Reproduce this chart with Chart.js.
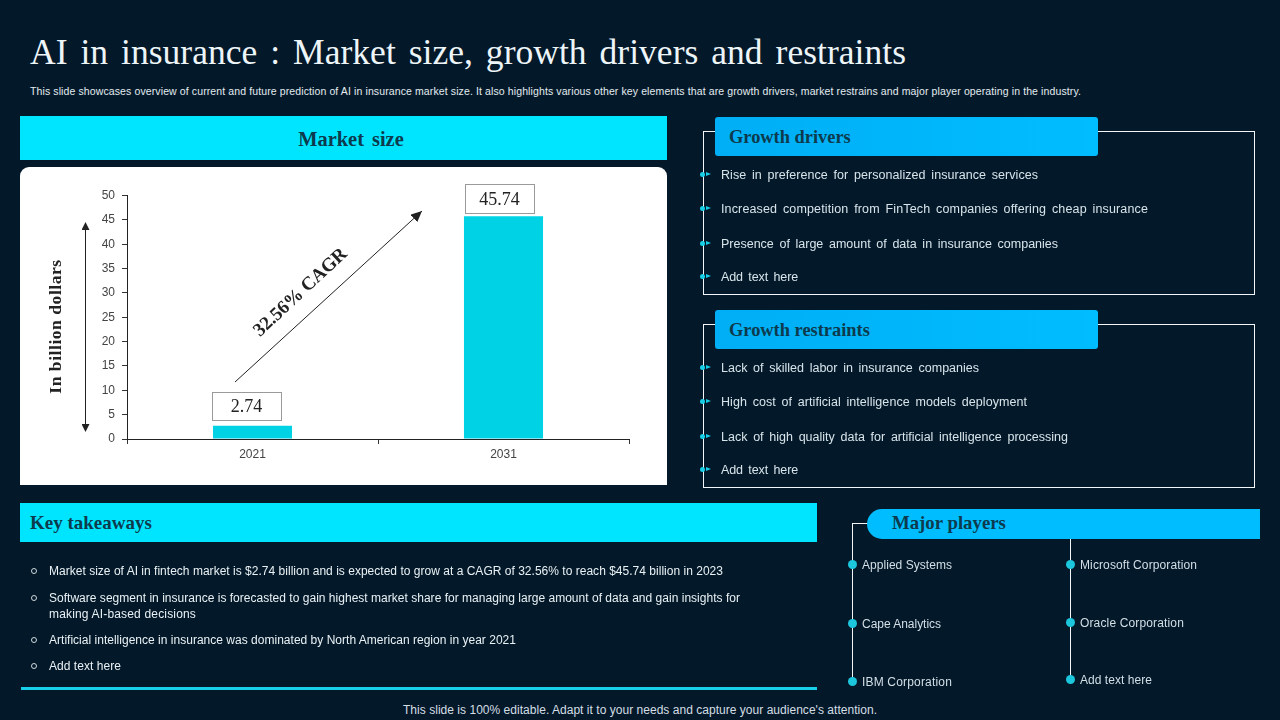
<!DOCTYPE html>
<html><head><meta charset="utf-8">
<script src="https://cdn.jsdelivr.net/npm/chart.js@4"></script>
<style>
html,body{margin:0;padding:0;background:#031827;overflow:hidden}
#s{position:relative;width:1280px;height:720px;background:#03192a;font-family:"Liberation Sans",sans-serif;color:#dfe8ee;overflow:hidden}
#s div{position:absolute;white-space:nowrap}
.serif{font-family:"Liberation Serif",serif;font-weight:bold;color:#0d3a4d}
.ln{line-height:16px;font-size:12.5px}
.box{border:1px solid #f2f6f8;box-sizing:border-box}
svg{position:absolute;left:0;top:0;pointer-events:none}
</style></head><body>
<div id="s">
<div id="ttl" style="left:30px;top:30px;font:35.5px/44px 'Liberation Serif',serif;color:#eef5f8;word-spacing:4px">AI in insurance : Market size, growth drivers and restraints</div>
<div id="sub" style="left:30px;top:84px;font-size:10.5px;line-height:14px;color:#e4ecf0">This slide showcases overview of current and future prediction of AI in insurance market size. It also highlights various other key elements that are growth drivers, market restrains and major player operating in the industry.</div>

<div style="left:20px;top:116px;width:647px;height:44px;background:#00e5ff"></div>
<div class="serif" style="left:20px;top:126px;width:662px;text-align:center;font-size:20.4px;line-height:26px;word-spacing:3px">Market size</div>
<div style="left:20px;top:167px;width:647px;height:318px;background:#fff;border-radius:9px 9px 0 0"></div>
<div style="left:20px;top:167px;width:647px;height:318px"><canvas id="c" width="647" height="318" style="display:block;width:647px;height:318px"></canvas></div>

<div class="box" style="left:703px;top:131px;width:552px;height:164px"></div>
<div style="left:715px;top:117px;width:383px;height:39px;background:linear-gradient(90deg,#00aef5,#00bdff);border-radius:3px"></div>
<div class="serif" style="left:729px;top:126px;font-size:18.4px;line-height:22px">Growth drivers</div>
<div class="box" style="left:703px;top:324px;width:552px;height:164px"></div>
<div style="left:715px;top:310px;width:383px;height:39px;background:linear-gradient(90deg,#00aef5,#00bdff);border-radius:3px"></div>
<div class="serif" style="left:729px;top:319px;font-size:18.4px;line-height:22px">Growth restraints</div>

<div style="left:20px;top:503px;width:797px;height:39px;background:#00e5ff"></div>
<div class="serif" style="left:30px;top:512px;font-size:19px;line-height:22px">Key takeaways</div>
<div style="left:21px;top:687px;width:796px;height:3px;background:#18d0ea"></div>

<div style="left:852px;top:523px;width:16px;height:1px;background:#f2f6f8"></div>
<div style="left:852px;top:523px;width:1px;height:160px;background:#f2f6f8"></div>
<div style="left:1070px;top:538px;width:1px;height:142px;background:#f2f6f8"></div>
<div style="left:867px;top:509px;width:393px;height:30px;background:#00bdff;border-radius:15px 0 0 15px"></div>
<div class="serif" style="left:892px;top:512px;font-size:18.8px;line-height:22px">Major players</div>

<div id="foot" style="left:403px;top:702px;font-size:12px;line-height:16px;color:#d5dee4">This slide is 100% editable. Adapt it to your needs and capture your audience's attention.</div>

<svg width="1280" height="720">
<defs><marker id="h" markerWidth="8" markerHeight="8" refX="7" refY="4" orient="auto-start-reverse" markerUnits="userSpaceOnUse"><path d="M0 0 L8 4 L0 8 Z" fill="#222"/></marker>
<marker id="g" markerWidth="12" markerHeight="10" refX="11" refY="5" orient="auto-start-reverse" markerUnits="userSpaceOnUse"><path d="M0 0 L11 5 L0 10 Z" fill="#222"/></marker></defs>
<line x1="235" y1="382" x2="422" y2="211" stroke="#222" stroke-width="1" marker-end="url(#g)"/>
<line x1="85.5" y1="223" x2="85.5" y2="431" stroke="#222" stroke-width="1" marker-start="url(#h)" marker-end="url(#h)"/>
<text transform="translate(301 293) rotate(-43)" text-anchor="middle" dominant-baseline="middle" font-family="Liberation Serif" font-weight="bold" font-size="19" letter-spacing="-.2" fill="#222">32.56% CAGR</text>
<text id="yt" transform="translate(57 326.5) rotate(-90)" text-anchor="middle" dominant-baseline="middle" font-family="Liberation Serif" font-weight="bold" font-size="17.5" letter-spacing=".55" fill="#222"></text>
</svg>
</div>
<script>
const categories=['2021','2031'];
const marketSize=[2.74,45.74];
const valueLabels=['2.74','45.74'];
const yTicks=[0,5,10,15,20,25,30,35,40,45,50];
const yAxisTitle='In billion dollars';
const drivers=['Rise in preference for personalized insurance services','Increased competition from FinTech companies offering cheap insurance','Presence of large amount of data in insurance companies','Add text here'];
const driverY=[175,209,244,277];
const driverEnd=[1038,1148,1058,798];
const restraints=['Lack of skilled labor in insurance companies','High cost of artificial intelligence models deployment','Lack of high quality data for artificial intelligence processing','Add text here'];
const restraintY=[368,402,437,470];
const restraintEnd=[979,1027,1068,798];
const takeaways=['Market size of AI in fintech market is $2.74 billion and is expected to grow at a CAGR of 32.56% to reach $45.74 billion in 2023','Software segment in insurance is forecasted to gain highest market share for managing large amount of data and gain insights for','Artificial intelligence in insurance was dominated by North American region in year 2021','Add text here'];
const takeawayY=[571,598,640,666];
const takeawayEnd=[723,740,516,121];
const takeawayCont='making AI-based decisions';
const playersLeft=['Applied Systems','Cape Analytics','IBM Corporation'];
const playersLeftY=[565,624,682];
const playersLeftEnd=[952,941,952];
const playersRight=['Microsoft Corporation','Oracle Corporation','Add text here'];
const playersRightY=[565,623,680];
const playersRightEnd=[1197,1184,1152];

document.getElementById('yt').textContent=yAxisTitle;
const s=document.getElementById('s');
function add(html,st,cls){const d=document.createElement('div');d.innerHTML=html;d.style.cssText=st;if(cls)d.className=cls;s.appendChild(d);return d;}
function fit(el,end){const r=el.getBoundingClientRect();const n=el.textContent.length;el.style.letterSpacing=((end-r.right)/n)+'px';}
function bullets(items,ys,ends){items.forEach((t,i)=>{
 add('',`left:700px;top:${ys[i]-3.5}px;width:5px;height:5px;border-radius:50%;background:#16cfe6`);
 add('',`left:706px;top:${ys[i]-3.5}px;width:0;height:0;border-left:5px solid #16cfe6;border-top:2.5px solid transparent;border-bottom:2.5px solid transparent`);
 fit(add(t,`left:721px;top:${ys[i]-8}px;word-spacing:2.2px;color:#d8e4ea`,'ln'),ends[i]);
});}
bullets(drivers,driverY,driverEnd);bullets(restraints,restraintY,restraintEnd);
takeaways.forEach((t,i)=>{
 add('',`left:31px;top:${takeawayY[i]-3}px;width:4px;height:4px;border:1px solid #cfd8dd;border-radius:50%`);
 fit(add(t,`left:49px;top:${takeawayY[i]-8}px;font-size:12px;color:#eaf1f4`,'ln'),takeawayEnd[i]);
});
fit(add(takeawayCont,`left:49px;top:606px;font-size:12px;color:#eaf1f4`,'ln'),196);
function players(items,ys,ends,dotX,txtX){items.forEach((t,i)=>{
 add('',`left:${dotX}px;top:${ys[i]-5.5}px;width:9px;height:9px;border-radius:50%;background:#1cc6dc`);
 fit(add(t,`left:${txtX}px;top:${ys[i]-8}px;font-size:12px;color:#d4dfe6`,'ln'),ends[i]);
});}
players(playersLeft,playersLeftY,playersLeftEnd,848,862);
players(playersRight,playersRightY,playersRightEnd,1066,1080);
fit(document.getElementById('ttl'),906);
fit(document.getElementById('sub'),1081);
fit(document.getElementById('foot'),877);

const valueBoxes={id:'valueBoxes',afterDatasetsDraw(ch){
 const c=ch.ctx,m=ch.getDatasetMeta(0);
 const off=[-6,-4],w=[69,69],h=[28,29],gap=[6,3];
 m.data.forEach((b,i)=>{
  const cx=b.x+off[i],by=b.y-gap[i]-h[i];
  c.save();c.fillStyle='#fff';c.strokeStyle='#9a9a9a';c.lineWidth=1;
  c.fillRect(cx-w[i]/2,by,w[i],h[i]);c.strokeRect(Math.round(cx-w[i]/2)+.5,Math.round(by)+.5,w[i],h[i]);
  c.fillStyle='#222';c.font='18px "Liberation Serif"';c.textAlign='center';c.textBaseline='middle';
  c.fillText(valueLabels[i],cx,by+h[i]/2+2);c.restore();
 });
}};
new Chart(document.getElementById('c'),{
 type:'bar',
 data:{labels:categories,datasets:[{data:marketSize,backgroundColor:'#00d2e6',categoryPercentage:1,barPercentage:0.315}]},
 plugins:[valueBoxes],
 options:{responsive:false,animation:false,devicePixelRatio:1,
  layout:{padding:{left:0,right:38,top:28.5,bottom:0}},
  plugins:{legend:{display:false},tooltip:{enabled:false},title:{display:false}},
  scales:{
   x:{offset:true,grid:{display:true,offset:true,drawOnChartArea:false,drawTicks:true,tickLength:5,color:'#333'},border:{color:'#222'},
      ticks:{font:{family:'Liberation Sans',size:12},color:'#444',padding:3,maxRotation:0},
      afterFit(a){a.height=46;}},
   y:{min:0,max:50,afterBuildTicks(a){a.ticks=yTicks.map(v=>({value:v}));},
      grid:{drawOnChartArea:false,drawTicks:true,tickLength:5,color:'#333'},border:{color:'#222'},
      ticks:{font:{family:'Liberation Sans',size:12},color:'#444',padding:7},
      afterFit(a){a.width=107;}}
  }
 }
});
</script>
</body></html>
